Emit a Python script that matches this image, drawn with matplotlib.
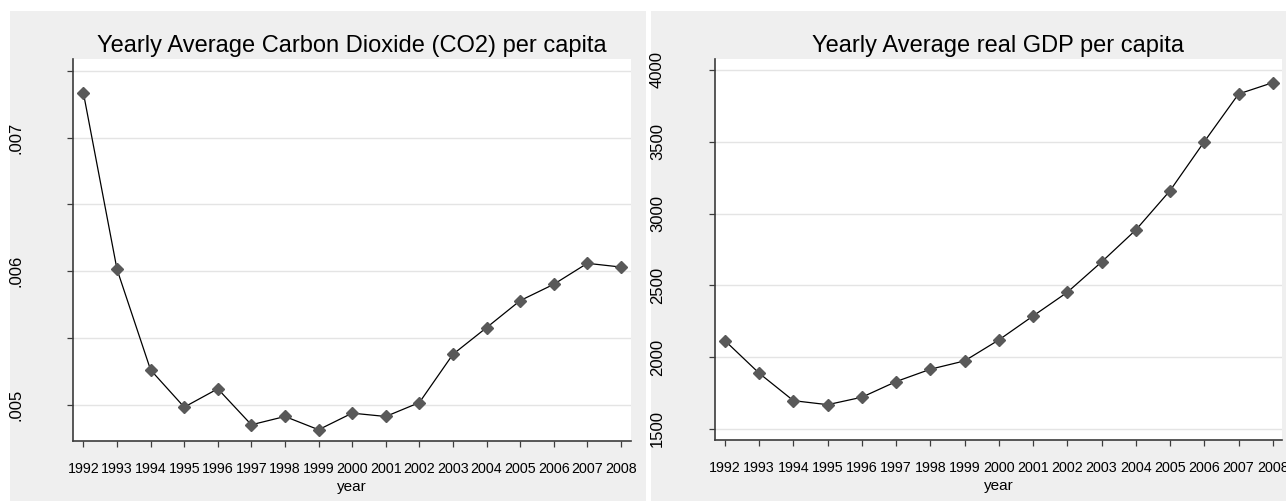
import matplotlib
matplotlib.use("Agg")
import matplotlib.pyplot as plt
from matplotlib.ticker import FixedLocator, FuncFormatter
from matplotlib import font_manager

# ---------------- data ----------------
years = list(range(1992, 2009))
co2_per_capita = [0.007333, 0.006015, 0.005263, 0.004985, 0.005122, 0.004853,
                  0.004915, 0.004816, 0.004940, 0.004915, 0.005019, 0.005380,
                  0.005579, 0.005781, 0.005903, 0.006060, 0.006032]
gdp_per_capita = [2115, 1888, 1697, 1669, 1721, 1830, 1916, 1974, 2120, 2287,
                  2452, 2663, 2886, 3160, 3501, 3833, 3912]
co2_ticks = [0.005, 0.0055, 0.006, 0.0065, 0.007, 0.0075]
co2_labels = {0.005: ".005", 0.006: ".006", 0.007: ".007"}
gdp_ticks = [1500, 2000, 2500, 3000, 3500, 4000]
gdp_labels = ["1500", "2000", "2500", "3000", "3500", "4000"]
title_left = "Yearly Average Carbon Dioxide (CO2) per capita"
title_right = "Yearly Average real GDP per capita"
xlabel = "year"

# ---------------- style ----------------
W, H = 1286, 501
DPI = 100
names = {f.name for f in font_manager.fontManager.ttflist}
has_narrow = 'Liberation Sans Narrow' in names
NARROW = ['Liberation Sans Narrow', 'Liberation Sans'] if has_narrow else ['Liberation Sans']
REG = ['Liberation Sans', 'DejaVu Sans']
BG = '#efefef'
GRID = '#e4e4e4'
AXC = '#3c3c3c'
MARK = '#595959'
XT_SIZE = 12.0 if has_narrow else 10.3
TI_SIZE = 19.5 if has_narrow else 17.0

fig = plt.figure(figsize=(W / DPI, H / DPI), dpi=DPI, facecolor='white')

def px(x0, y0, x1, y1):
    return [x0 / W, 1 - y1 / H, (x1 - x0) / W, (y1 - y0) / H]

# gray graph regions
for (a, b, c, d) in [(10, 11, 646, 501), (651, 11, 1286, 501)]:
    bg = fig.add_axes(px(a, b, c, d), zorder=-5)
    bg.set_facecolor(BG)
    bg.set_xticks([])
    bg.set_yticks([])
    for s in bg.spines.values():
        s.set_visible(False)

def style_axes(ax, yvals, yticks, yfmt, xlim, ylim, title):
    ax.set_facecolor('white')
    ax.plot(years, yvals, color='black', lw=0.9, zorder=3)
    ax.plot(years, yvals, linestyle='none', marker='D', ms=6.2,
            color=MARK, mec=MARK, zorder=4)
    ax.set_xlim(*xlim)
    ax.set_ylim(*ylim)
    for s in ['top', 'right']:
        ax.spines[s].set_visible(False)
    for s in ['left', 'bottom']:
        ax.spines[s].set_color(AXC)
        ax.spines[s].set_linewidth(1.2)
    ax.set_xticks(years)
    ax.set_xticklabels([str(y) for y in years], fontfamily=NARROW, fontsize=XT_SIZE)
    ax.yaxis.set_major_locator(FixedLocator(yticks))
    ax.yaxis.set_major_formatter(FuncFormatter(yfmt))
    ax.tick_params(axis='x', length=4.3, width=0.9, color=AXC, pad=11,
                   labelcolor='black')
    ax.tick_params(axis='y', length=4, width=0.9, color=AXC, pad=32,
                   labelcolor='black', labelsize=12, labelrotation=90)
    for lab in ax.get_yticklabels():
        lab.set_fontfamily(REG)
        lab.set_va('center')
    ax.grid(axis='y', color=GRID, lw=1.0, zorder=0)
    ax.set_axisbelow(True)
    ax.set_xlabel(xlabel, fontfamily=NARROW, fontsize=11.0, labelpad=3)
    ax.set_title(title, fontfamily=NARROW, fontsize=TI_SIZE, pad=5)

ax1 = fig.add_axes(px(73, 59.3, 631, 440.7), zorder=1)
style_axes(ax1, co2_per_capita, co2_ticks,
           lambda v, p: co2_labels.get(round(v, 4), ""),
           (1991.69, 2008.30), (0.004734, 0.007585), title_left)

ax2 = fig.add_axes(px(715, 59, 1281.7, 440), zorder=1)
gl = dict(zip(gdp_ticks, gdp_labels))
style_axes(ax2, gdp_per_capita, gdp_ticks,
           lambda v, p: gl.get(int(round(v)), ""),
           (1991.71, 2008.26), (1423, 4076.6), title_right)

fig.savefig('out.png', dpi=DPI, facecolor='white')
